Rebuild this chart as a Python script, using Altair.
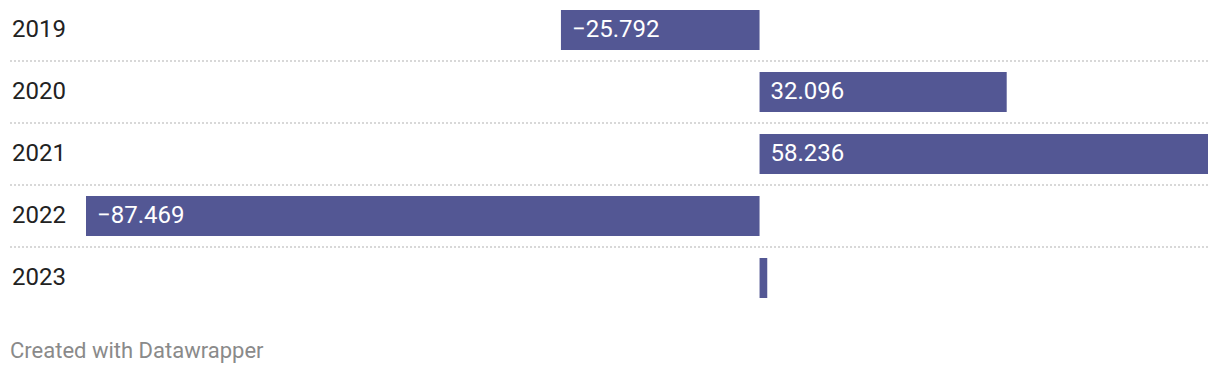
import altair as alt
import pandas as pd

years = ["2019", "2020", "2021", "2022", "2023"]
values = [-25.792, 32.096, 58.236, -87.469, 1.0]
labels = ["−25.792", "32.096", "58.236", "−87.469", ""]

df = pd.DataFrame({"year": years, "value": values, "label": labels})
df["start"] = df["value"].clip(upper=0)

lo, hi = min(values), max(values)
k = 1122 / (hi - lo)
domain = [lo - 86 / k, hi + 12 / k]

FONT = "Roboto"
BAR = "#535794"

xs = alt.Scale(domain=domain, nice=False, zero=False)
ys = alt.Scale(paddingInner=0, paddingOuter=0, range=[-1, 309])
x = alt.X("value:Q", scale=xs, axis=None)
y = alt.Y("year:N", sort=years, scale=ys, axis=None)

base = alt.Chart(df)

seps = base.transform_filter(alt.datum.year != years[0]).mark_rule(
    color="#cccccc", strokeWidth=1.5, strokeDash=[2, 2], yOffset=-31
).encode(y=y, x=alt.value(10), x2=alt.value(1208))

bars = base.mark_bar(size=40, color=BAR).encode(
    x=x, x2=alt.X2("zero:Q"), y=y
).transform_calculate(zero="0")

vlabels = base.mark_text(
    align="left", baseline="middle", dx=11, color="white", font=FONT, fontSize=24
).encode(
    x=alt.X("start:Q", scale=xs, axis=None),
    y=y,
    text="label:N",
)

ylabels = base.mark_text(
    align="left", baseline="middle", color="#222222", font=FONT, fontSize=24
).encode(
    x=alt.value(12),
    y=y,
    text="year:N",
)

footer = alt.Chart(pd.DataFrame({"t": ["Created with Datawrapper"]})).mark_text(
    align="left", baseline="middle", color="#8a8a8a", font=FONT, fontSize=22
).encode(x=alt.value(10), y=alt.value(351), text="t:N")

chart = alt.layer(seps, bars, vlabels, ylabels, footer).properties(
    width=1220, height=310,
    background="white",
    autosize=alt.AutoSizeParams(type="none"),
    padding={"left": 0, "top": 0, "right": 0, "bottom": 64},
).configure_view(stroke=None, strokeWidth=0)

chart.save("out.html", embed_options={"renderer": "svg", "actions": False})
